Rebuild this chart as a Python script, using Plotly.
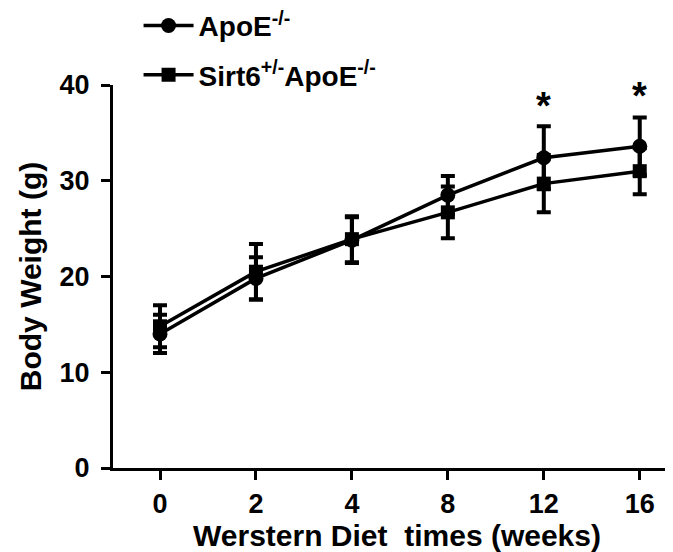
import plotly.graph_objects as go

weeks = ["0", "2", "4", "8", "12", "16"]
apoe_mean = [14.0, 19.8, 23.8, 28.5, 32.4, 33.6]
apoe_err = [2.0, 2.2, 2.4, 2.0, 3.3, 3.0]
sirt_mean = [14.8, 20.5, 23.9, 26.7, 29.7, 31.0]
sirt_err = [2.2, 2.9, 2.4, 2.7, 3.0, 2.4]
star_weeks = ["12", "16"]
star_y = [35.4, 36.5]

FONT = "Liberation Sans, Arial, sans-serif"

fig = go.Figure()
fig.add_trace(go.Scatter(
    x=weeks, y=sirt_mean, mode="lines+markers",
    name="<b>Sirt6<sup>+/-</sup>ApoE<sup>-/-</sup></b>",
    line=dict(color="black", width=3.5),
    marker=dict(symbol="square", size=14, color="black"),
    error_y=dict(type="data", array=sirt_err, visible=True, color="black", thickness=4, width=7),
    legendgroup="b", legendrank=2,
))
fig.add_trace(go.Scatter(
    x=weeks, y=apoe_mean, mode="lines+markers",
    name="<b>ApoE<sup>-/-</sup></b>",
    line=dict(color="black", width=3.5),
    marker=dict(symbol="circle", size=15, color="black"),
    error_y=dict(type="data", array=apoe_err, visible=True, color="black", thickness=4, width=7),
    legendgroup="a", legendrank=1,
))

for w, yv in zip(star_weeks, star_y):
    fig.add_annotation(x=weeks.index(w), y=yv, text="<b>*</b>", showarrow=False,
                       yanchor="bottom",
                       font=dict(size=38, family=FONT, color="black"))

fig.update_layout(
    width=673, height=552,
    margin=dict(l=105, r=0, t=77, b=92, autoexpand=False),
    paper_bgcolor="white", plot_bgcolor="white",
    font=dict(family=FONT, color="black"),
    showlegend=True,
    legend=dict(x=0.045, y=1.22, xanchor="left", yanchor="top",
                font=dict(size=28, family=FONT, color="black"),
                itemwidth=50,
                tracegroupgap=10, bgcolor="rgba(0,0,0,0)"),
    xaxis=dict(
        type="category", range=[-0.49, 5.43],
        showline=True, linecolor="black", linewidth=3,
        ticks="outside", ticklen=9, tickwidth=3, tickcolor="black",
        tickfont=dict(size=27, family=FONT, color="black", weight="bold"),
        ticklabelstandoff=1,
        showgrid=False, zeroline=False, automargin=False,
        title=dict(text="<b>Werstern Diet  times (weeks)</b>",
                   font=dict(size=30, family=FONT, color="black"), standoff=0),
    ),
    yaxis=dict(
        range=[0, 40], tickvals=[0, 10, 20, 30, 40],
        showline=True, linecolor="black", linewidth=3,
        ticks="outside", ticklen=9, tickwidth=3, tickcolor="black",
        tickfont=dict(size=27, family=FONT, color="black", weight="bold"),
        ticklabelstandoff=6,
        showgrid=False, zeroline=False, automargin=False,
        title=dict(text="<b>Body Weight (g)</b>",
                   font=dict(size=30, family=FONT, color="black"), standoff=10),
    ),
)

fig.write_html("out.html")
